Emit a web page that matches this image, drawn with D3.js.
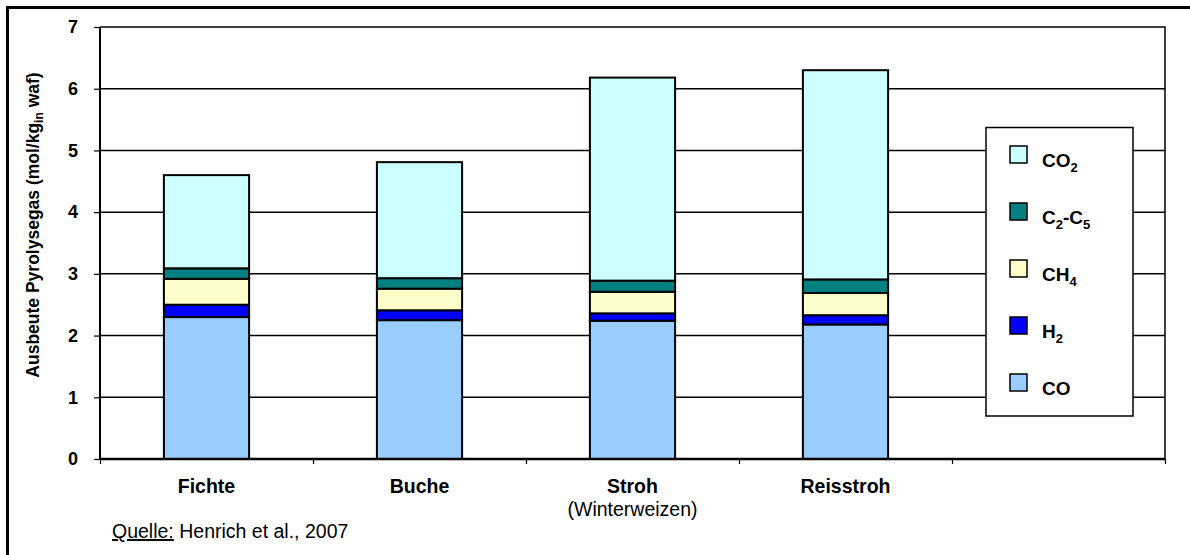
<!DOCTYPE html>
<html><head><meta charset="utf-8">
<script src="https://cdn.jsdelivr.net/npm/d3@7"></script>
<style>body{margin:0;background:#fff;} svg{display:block;font-family:Arial,"Liberation Sans",sans-serif;}</style>
</head><body>
<script>
const categories = ["Fichte", "Buche", "Stroh", "Reisstroh", ""];
const subLabels = ["", "", "(Winterweizen)", "", ""];
const seriesKeys = ["CO", "H2", "CH4", "C2C5", "CO2"];
const CO   = [2.30, 2.25, 2.24, 2.18];
const H2   = [0.20, 0.16, 0.12, 0.15];
const CH4  = [0.42, 0.35, 0.35, 0.36];
const C2C5 = [0.17, 0.17, 0.18, 0.22];
const CO2  = [1.51, 1.88, 3.29, 3.39];
const yTicks = [0, 1, 2, 3, 4, 5, 6, 7];
const colors = {CO:"#99CCFF", H2:"#0000FF", CH4:"#FFFFCC", C2C5:"#008080", CO2:"#CCFFFF"};
const legendItems = [
  {key:"CO2", parts:[["CO",""],["2","sub"]]},
  {key:"C2C5", parts:[["C",""],["2","sub"],["-C",""],["5","sub"]]},
  {key:"CH4", parts:[["CH",""],["4","sub"]]},
  {key:"H2", parts:[["H",""],["2","sub"]]},
  {key:"CO", parts:[["CO",""]]}
];

const W = 1190, H = 555;
const svg = d3.select("body").append("svg").attr("width", W).attr("height", H);
svg.append("rect").attr("x",7.5).attr("y",7.5).attr("width",W).attr("height",H).attr("fill","#fff").attr("stroke","#000").attr("stroke-width",3);

const m = {l:100, r:1165, t:27, b:459};
const x = d3.scaleBand().domain(categories.map((c,i)=>i)).range([m.l, m.r]).paddingInner(0).paddingOuter(0);
const y = d3.scaleLinear().domain([0,7]).range([m.b, m.t]);

// gridlines
svg.append("g").selectAll("line").data(yTicks.filter(t=>t>0 && t<7)).join("line")
  .attr("x1", m.l).attr("x2", m.r).attr("y1", d=>y(d)).attr("y2", d=>y(d))
  .attr("stroke","#000").attr("stroke-width",1.5);

// data table for stack
const table = categories.slice(0,4).map((c,i)=>({i, CO:CO[i], H2:H2[i], CH4:CH4[i], C2C5:C2C5[i], CO2:CO2[i]}));
const stack = d3.stack().keys(seriesKeys)(table);
const bw = x.bandwidth()*0.4;
svg.append("g").selectAll("g").data(stack).join("g")
  .attr("fill", d=>colors[d.key])
  .selectAll("rect").data(d=>d).join("rect")
  .attr("x", d=>x(d.data.i)+(x.bandwidth()-bw)/2)
  .attr("width", bw)
  .attr("y", d=>y(d[1]))
  .attr("height", d=>y(d[0])-y(d[1]))
  .attr("stroke","#000").attr("stroke-width",2);

// plot frame (top, right)
svg.append("path").attr("d",`M${m.l},${m.t}H${m.r}V${m.b}`).attr("fill","none").attr("stroke","#000").attr("stroke-width",1.5);

const FONT = "Arial,'Liberation Sans',sans-serif";
// y axis
const yAxis = svg.append("g").attr("transform",`translate(${m.l},0)`)
  .call(d3.axisLeft(y).tickValues(yTicks).tickSize(6).tickPadding(16).tickFormat(d3.format("d")));
yAxis.select(".domain").attr("stroke","#000").attr("stroke-width",2).attr("d",`M0,${m.t}V${m.b}`);
yAxis.selectAll(".tick line").attr("stroke","#000").attr("stroke-width",1.2);
yAxis.selectAll(".tick text").attr("font-size",18).attr("font-weight","bold").attr("fill","#000").attr("font-family",FONT);

// x axis
const xs = d3.scaleLinear().domain([0,categories.length]).range([m.l,m.r]);
const xAxis = svg.append("g").attr("transform",`translate(0,${m.b})`)
  .call(d3.axisBottom(xs).tickValues(d3.range(categories.length+1)).tickSize(5).tickFormat(""));
xAxis.select(".domain").attr("stroke","#000").attr("stroke-width",2.5).attr("d",`M${m.l},0H${m.r}`);
xAxis.selectAll(".tick line").attr("stroke","#000").attr("stroke-width",1.2);

// category labels
svg.append("g").selectAll("text").data(categories).join("text")
  .attr("x",(d,i)=>x(i)+x.bandwidth()/2).attr("y",493)
  .attr("text-anchor","middle").attr("font-size",19.5).attr("font-weight","bold").text(d=>d);
svg.append("g").selectAll("text").data(subLabels).join("text")
  .attr("x",(d,i)=>x(i)+x.bandwidth()/2).attr("y",516)
  .attr("text-anchor","middle").attr("font-size",19.5).text(d=>d);

// y title
const yt = svg.append("text").attr("transform","translate(39,225) rotate(-90)")
  .attr("text-anchor","middle").attr("font-size",17.5).attr("font-weight","bold");
yt.append("tspan").text("Ausbeute Pyrolysegas (mol/kg");
yt.append("tspan").attr("font-size",12).attr("dy",4).text("in");
yt.append("tspan").attr("dy",-4).text(" waf)");

// source
const src = svg.append("text").attr("x",112).attr("y",538).attr("font-size",19.5);
src.append("tspan").attr("text-decoration","underline").text("Quelle:");
src.append("tspan").text(" Henrich et al., 2007");

// legend
const lg = svg.append("g");
lg.append("rect").attr("x",986).attr("y",127.5).attr("width",147).attr("height",288.5).attr("fill","#fff").attr("stroke","#000").attr("stroke-width",1.5);
const rows = lg.selectAll("g").data(legendItems).join("g")
  .attr("transform",(d,i)=>`translate(1010,${154.5+i*57})`);
rows.append("rect").attr("x",0).attr("y",-8.5).attr("width",17).attr("height",17)
  .attr("fill",d=>colors[d.key]).attr("stroke","#000").attr("stroke-width",1.5);
rows.each(function(d){
  const t = d3.select(this).append("text").attr("x",32).attr("y",12).attr("font-size",19).attr("font-weight","bold");
  let inSub = false;
  d.parts.forEach(p=>{
    const isSub = p[1]==="sub";
    const dy = isSub && !inSub ? 5 : (!isSub && inSub ? -5 : 0);
    t.append("tspan").attr("font-size", isSub ? 13 : 19).attr("dy", dy).text(p[0]);
    inSub = isSub;
  });
});
</script>
</body></html>
